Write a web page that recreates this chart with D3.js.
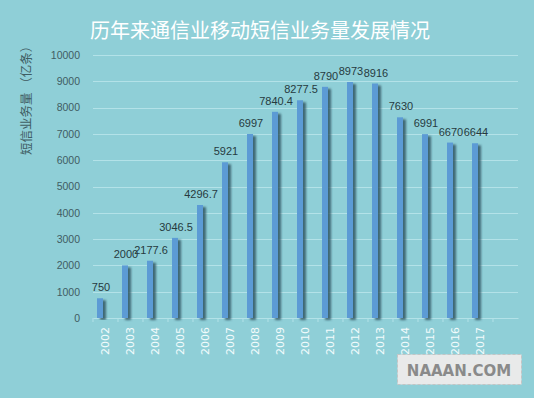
<!DOCTYPE html>
<meta charset="utf-8">
<style>

body {
  margin: 0;
  background: #8fcfd7;
}

svg {
  display: block;
}

</style>
<body>
<script src="https://cdn.jsdelivr.net/npm/d3@7"></script>
<script>

var years = ["2002", "2003", "2004", "2005", "2006", "2007", "2008", "2009",
             "2010", "2011", "2012", "2013", "2014", "2015", "2016", "2017", ""],
    volumes = [750, 2000, 2177.6, 3046.5, 4296.7, 5921, 6997, 7840.4,
               8277.5, 8790, 8973, 8916, 7630, 6991, 6670, 6644, null],
    labels = ["750", "2000", "2177.6", "3046.5", "4296.7", "5921", "6997", "7840.4",
              "8277.5", "8790", "8973", "8916", "7630", "6991", "6670", "6644", ""],
    yTicks = [0, 1000, 2000, 3000, 4000, 5000, 6000, 7000, 8000, 9000, 10000];

var width = 534, height = 398;

var x = d3.scaleBand().domain(years).range([93, 518]),
    y = d3.scaleLinear().domain([0, 10000]).range([318, 55]);

var svg = d3.select("body").append("svg")
    .attr("width", width)
    .attr("height", height);

var defs = svg.append("defs");
defs.append("filter")
    .attr("id", "shadow")
    .attr("x", "-50%").attr("y", "-10%")
    .attr("width", "250%").attr("height", "120%")
  .append("feDropShadow")
    .attr("dx", 3)
    .attr("dy", 2)
    .attr("stdDeviation", 1.3)
    .attr("flood-color", "#2b4f5c")
    .attr("flood-opacity", 0.8);

svg.append("rect")
    .attr("width", width)
    .attr("height", height)
    .attr("fill", "#8fcfd7");

svg.append("text")
    .attr("x", 260)
    .attr("y", 38)
    .attr("text-anchor", "middle")
    .attr("fill", "#ffffff")
    .style("font", "20px 'Noto Sans CJK SC'")
    .text("历年来通信业移动短信业务量发展情况");

// grid
svg.append("g")
  .selectAll("line")
  .data(yTicks.slice(1))
  .join("line")
    .attr("x1", 93)
    .attr("x2", 518)
    .attr("y1", function(d) { return Math.round(y(d)) + 0.5; })
    .attr("y2", function(d) { return Math.round(y(d)) + 0.5; })
    .attr("stroke", "#b3e2e8")
    .attr("stroke-width", 1);

// y axis
var yAxis = svg.append("g")
    .attr("transform", "translate(93,0)")
    .call(d3.axisLeft(y).tickValues(yTicks).tickFormat(d3.format("d")).tickSize(0).tickPadding(13));
yAxis.select(".domain").remove();
yAxis.selectAll("text")
    .attr("fill", "#3f5d63")
    .style("font", "10.5px 'Liberation Sans'");

// x axis
var xAxis = svg.append("g")
    .attr("transform", "translate(0,318)")
    .call(d3.axisBottom(x).tickSize(4).tickSizeOuter(0));
xAxis.select(".domain").attr("stroke", "#b3e2e8");
xAxis.selectAll(".tick line")
    .attr("stroke", "#b3e2e8")
    .attr("transform", "translate(" + (-x.bandwidth() / 2) + ",0)");
xAxis.selectAll("text")
    .attr("fill", "#f2fbfc")
    .attr("transform", "rotate(-90)")
    .attr("text-anchor", "end")
    .attr("x", -9)
    .attr("y", 0)
    .attr("dy", "0.35em")
    .style("font", "11px 'DejaVu Sans'");

svg.append("text")
    .attr("transform", "translate(31,155) rotate(-90)")
    .attr("fill", "#3f5d63")
    .style("font", "12.5px 'Noto Sans CJK SC'")
    .text("短信业务量 （亿条）");

var data = years.map(function(d, i) { return {year: d, value: volumes[i], label: labels[i]}; })
    .filter(function(d) { return d.value != null; });

var barW = 6, barOff = -8.5;

svg.append("g")
  .selectAll("rect")
  .data(data)
  .join("rect")
    .attr("x", function(d) { return x(d.year) + x.bandwidth() / 2 + barOff; })
    .attr("y", function(d) { return y(d.value); })
    .attr("width", barW)
    .attr("height", function(d) { return y(0) - y(d.value); })
    .attr("fill", "#5b9bd5")
    .attr("filter", "url(#shadow)");

svg.append("g")
  .selectAll("text")
  .data(data)
  .join("text")
    .attr("x", function(d) { return x(d.year) + x.bandwidth() / 2 + barOff + barW / 2 + 1; })
    .attr("y", function(d) { return y(d.value) - 7; })
    .attr("text-anchor", "middle")
    .attr("fill", "#263a3e")
    .style("font", "11px 'Liberation Sans'")
    .text(function(d) { return d.label; });

// watermark
svg.append("rect")
    .attr("x", 397.5)
    .attr("y", 354.5)
    .attr("width", 124)
    .attr("height", 30)
    .attr("fill", "#e9eaea")
    .attr("stroke", "#c4c4c4")
    .attr("stroke-dasharray", "3,2");

svg.append("text")
    .attr("x", 459)
    .attr("y", 376)
    .attr("text-anchor", "middle")
    .attr("fill", "#8a8a8a")
    .style("font", "bold 15px 'DejaVu Sans'")
    .text("NAAAN.COM");

</script>
